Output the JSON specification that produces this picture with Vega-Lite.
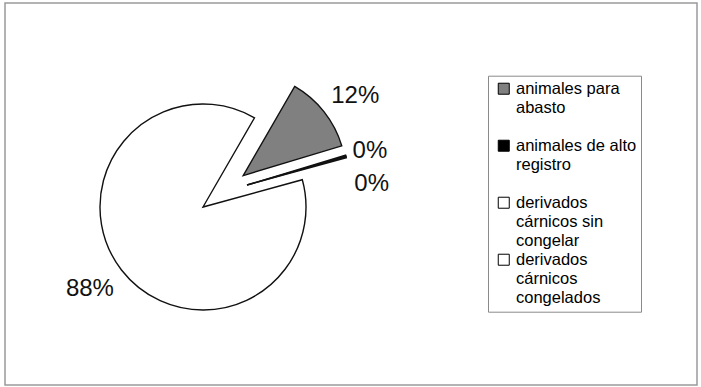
{
  "$schema": "https://vega.github.io/schema/vega-lite/v6.json",
  "width": 692,
  "height": 382,
  "autosize": {"type": "none"},
  "padding": {"left": 5, "top": 3, "right": 4, "bottom": 2},
  "background": "white",
  "view": {"stroke": "#9a9a9a", "strokeWidth": 1.5},
  "config": {
    "view": {"stroke": "#9a9a9a", "strokeWidth": 1.5},
    "style": {"guide-label": {"lineHeight": 19.3, "dy": 5.7}, "view": {"stroke": "#9a9a9a", "strokeWidth": 1.5}}
  },
  "data": {
    "values": [
      {"categoria": "animales para abasto", "share": 0.12, "orden": 1},
      {"categoria": "animales de alto registro", "share": 0.002, "orden": 2},
      {"categoria": "derivados cárnicos sin congelar", "share": 0.002, "orden": 3},
      {"categoria": "derivados cárnicos congelados", "share": 0.876, "orden": 4}
    ]
  },
  "encoding": {
    "theta": {"field": "share", "type": "quantitative", "stack": true, "scale": {"domain": [0, 1], "range": [0.5236, 6.8068]}},
    "order": {"field": "orden", "type": "quantitative"}
  },
  "layer": [
    {
      "mark": {"type": "arc", "x": 198.0, "y": 204.0, "outerRadius": 103, "stroke": "#111111", "strokeWidth": 1.4},
      "encoding": {
        "color": {"field": "categoria", "type": "nominal",
          "scale": {"domain": ["animales para abasto", "animales de alto registro", "derivados cárnicos sin congelar", "derivados cárnicos congelados"], "range": ["#808080", "#000000", "#ffffff", "#ffffff"]},
          "legend": {
            "title": null, "orient": "none", "legendX": 483, "legendY": 72.7,
            "padding": 4, "strokeColor": "#8a8a8a", "fillColor": "white", "cornerRadius": 0,
            "symbolType": "M-1,-0.86L1,-0.86L1,1.14L-1,1.14Z", "symbolSize": 121, "symbolOffset": 3.5,
            "symbolStrokeColor": "#000000", "symbolStrokeWidth": 1,
            "labelFont": "Liberation Sans", "labelFontSize": 16.5, "labelColor": "#000000",
            "labelBaseline": "alphabetic", "labelOffset": 4, "labelLimit": 300, "rowPadding": 0,
            "labelExpr": "datum.label == 'animales para abasto' ? ['animales para','abasto',''] : datum.label == 'animales de alto registro' ? ['animales de alto','registro',''] : datum.label == 'derivados cárnicos sin congelar' ? ['derivados','cárnicos sin','congelar'] : ['derivados','cárnicos','congelados']"
          }
        },
        "opacity": {"condition": {"test": "datum.categoria == 'derivados cárnicos congelados'", "value": 1}, "value": 0}
      }
    },
    {
      "mark": {"type": "arc", "x": 238.2, "y": 172.6, "outerRadius": 103, "stroke": "#111111", "strokeWidth": 1.4},
      "encoding": {
        "color": {"field": "categoria", "type": "nominal"},
        "opacity": {"condition": {"test": "datum.categoria == 'animales para abasto'", "value": 1}, "value": 0}
      }
    },
    {
      "mark": {"type": "arc", "x": 242.0, "y": 182.0, "outerRadius": 103, "stroke": "#111111", "strokeWidth": 1.4},
      "encoding": {
        "color": {"field": "categoria", "type": "nominal"},
        "opacity": {"condition": {"test": "datum.categoria == 'animales de alto registro' || datum.categoria == 'derivados cárnicos sin congelar'", "value": 1}, "value": 0}
      }
    },
    {
      "mark": {"type": "text", "x": 218.2, "y": 188.4, "radius": 164, "dx": 3.5, "dy": 6, "font": "Liberation Sans", "fontSize": 24, "align": "center", "baseline": "middle", "color": "#111111"},
      "encoding": {
        "text": {"field": "share", "type": "quantitative", "format": ".0%"},
        "opacity": {"condition": {"test": "datum.categoria == 'animales para abasto'", "value": 1}, "value": 0}
      }
    },
    {
      "mark": {"type": "text", "x": 218.2, "y": 188.4, "radius": 164, "dx": -3.5, "dy": -2.5, "font": "Liberation Sans", "fontSize": 24, "align": "center", "baseline": "middle", "color": "#111111"},
      "encoding": {
        "text": {"field": "share", "type": "quantitative", "format": ".0%"},
        "opacity": {"condition": {"test": "datum.categoria == 'derivados cárnicos congelados'", "value": 1}, "value": 0}
      }
    },
    {
      "mark": {"type": "text", "x": 218.2, "y": 188.4, "radius": 153, "dy": 3, "font": "Liberation Sans", "fontSize": 24, "align": "center", "baseline": "middle", "color": "#111111"},
      "encoding": {
        "text": {"field": "share", "type": "quantitative", "format": ".0%"},
        "opacity": {"condition": {"test": "datum.categoria == 'animales de alto registro'", "value": 1}, "value": 0}
      }
    },
    {
      "mark": {"type": "text", "x": 218.2, "y": 188.4, "radius": 149, "dx": 5, "dy": 33, "font": "Liberation Sans", "fontSize": 24, "align": "center", "baseline": "middle", "color": "#111111"},
      "encoding": {
        "text": {"field": "share", "type": "quantitative", "format": ".0%"},
        "opacity": {"condition": {"test": "datum.categoria == 'derivados cárnicos sin congelar'", "value": 1}, "value": 0}
      }
    }
  ]
}
